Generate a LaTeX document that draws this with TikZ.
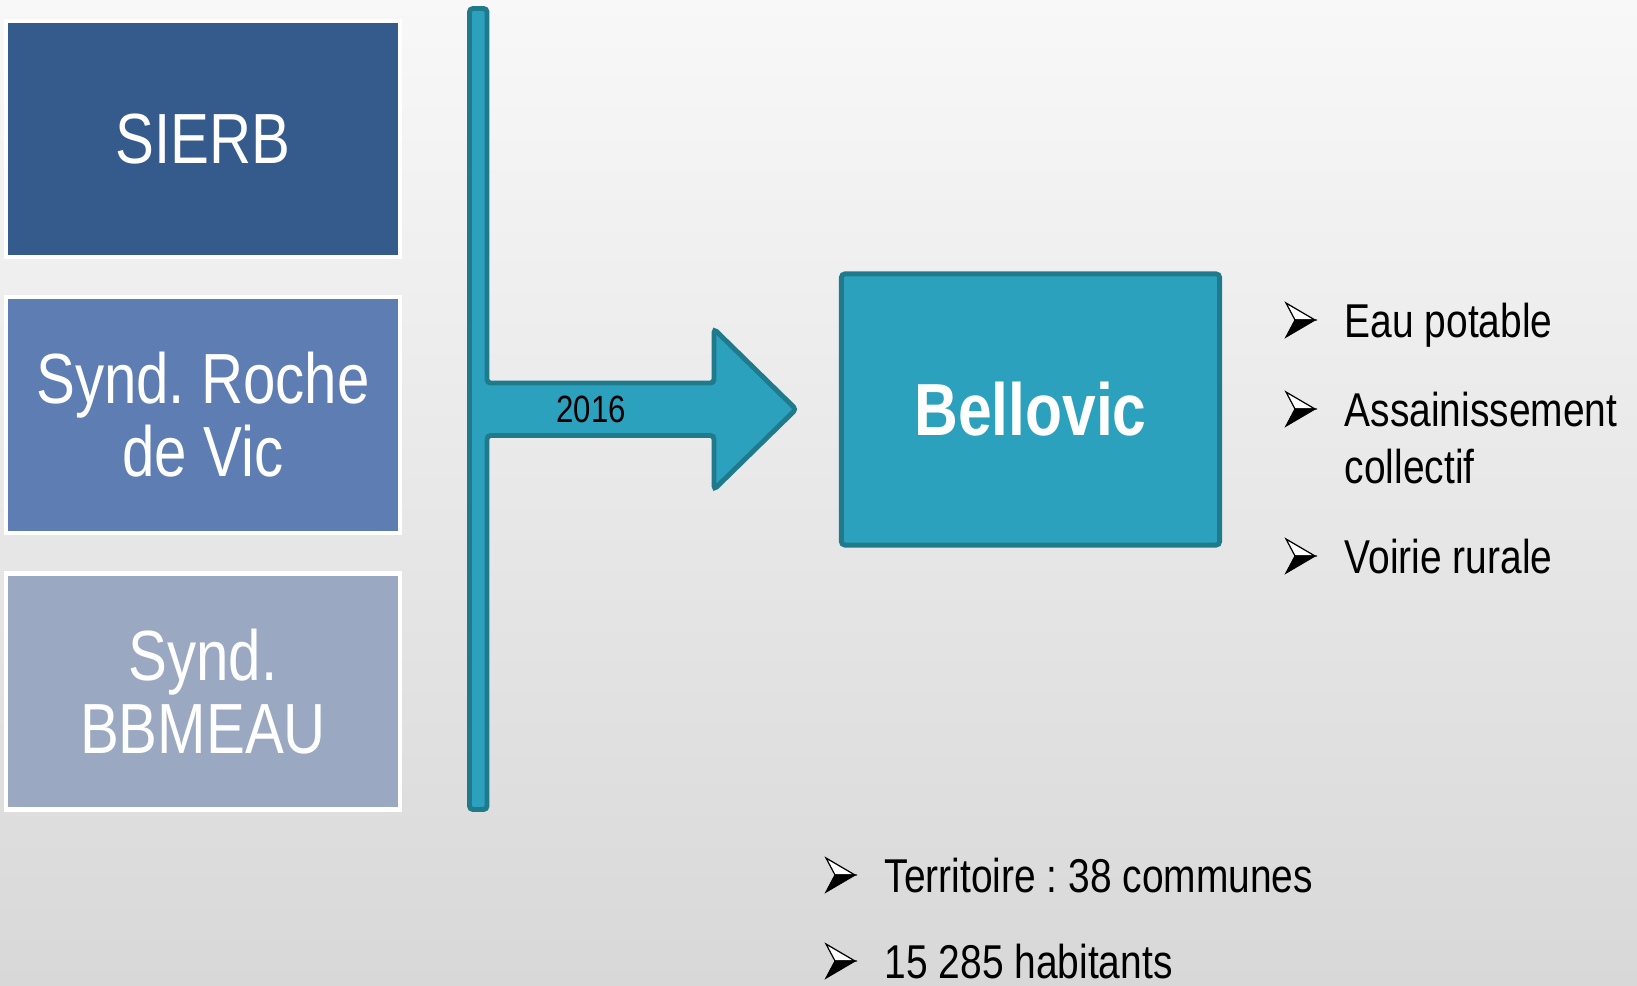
\documentclass[tikz,border=0pt]{standalone}
\usepackage{fontspec}
\setmainfont{Liberation Sans}[FakeStretch=0.82]
\usepackage{tikz}
\usetikzlibrary{positioning,calc}
\frenchspacing
\definecolor{sierbblue}{HTML}{355A8C}
\definecolor{rocheblue}{HTML}{5E7DB3}
\definecolor{bbmeaublue}{HTML}{9BA8C2}
\definecolor{tealfill}{HTML}{2CA1BE}
\definecolor{tealedge}{HTML}{1F7A8C}
\definecolor{bgtop}{HTML}{F8F8F8}
\definecolor{bgmid}{HTML}{F3F3F3}
\definecolor{bgbottom}{HTML}{D8D8D8}
\tikzset{
    syndicate/.style={draw=white,line width=1.3pt,minimum width=3.94cm,minimum height=2.36cm,text=white,align=center,font=\fontsize{20.2}{20.8}\selectfont},
    teal shape/.style={fill=tealfill,draw=tealedge,line width=1.4pt},
    list text/.style={anchor=base west,inner sep=0pt,font=\fontsize{13.5}{16}\selectfont},
    arrowbullet/.pic={
        \filldraw[fill=white,draw=black,line width=0.35pt] (0,-34) -- (29,-17) -- (9,-17) -- cycle;
        \filldraw[fill=black,draw=black,line width=0.35pt] (9,-17) -- (29,-17) -- (0,0) -- cycle;
    },
}

\begin{document}
\begin{tikzpicture}[x=0.01cm,y=-0.01cm]
        \shade[top color=bgtop,middle color=bgmid,bottom color=bgbottom] (0,0) rectangle (1637,985);
        \useasboundingbox (0,0) rectangle (1637,985);
        % the three former syndicates
        \node[syndicate,fill=sierbblue] (sierb) at (203,139) {SIERB};
        \node[syndicate,fill=rocheblue] (roche) at (203,415) {Synd. Roche\\de Vic};
        \node[syndicate,fill=bbmeaublue] (bbmeau) at (203,691.5) {Synd.\\BBMEAU};
        % bar and block arrow
        \draw[teal shape,rounded corners=1pt] (469.5,8.5) -- (487,8.5) -- (487,383) -- (714,383) -- (714,329) -- (796,409.25) -- (714,489.5) -- (714,435.5) -- (487,435.5) -- (487,809.5) -- (469.5,809.5) -- cycle;
        \node[font=\fontsize{10.8}{12}\selectfont] (year) at (591,409) {2016};
        \node[teal shape,rounded corners=1pt,minimum width=3.78cm,minimum height=2.71cm,text=white,font=\bfseries\fontsize{21}{23}\selectfont] (bellovic) at (1030.5,409.5) {Bellovic};
        % competences and figures
        \node[list text] (eau) at (1344,337) {Eau potable};
        \node[list text] (assain) at (1344,426) {Assainissement};
        \node[list text] (collectif) at (1344,483) {collectif};
        \node[list text] (voirie) at (1344,573) {Voirie rurale};
        \node[list text] (territoire) at (884,892) {Territoire : 38 communes};
        \node[list text] (habitants) at (884,978) {15 285 habitants};
        \foreach \entry in {eau,assain,voirie,territoire,habitants}
            \pic at ($(\entry.base west)+(-58,0)$) {arrowbullet};
    \end{tikzpicture}
\end{document}
